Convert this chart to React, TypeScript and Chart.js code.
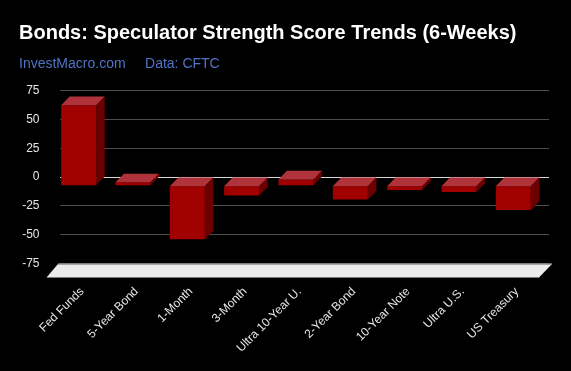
import React, { useEffect, useRef } from "react";
import { Chart, registerables } from "chart.js";

Chart.register(...registerables);

// ---- Data ----
const categories = [
  "Fed Funds",
  "5-Year Bond",
  "1-Month",
  "3-Month",
  "Ultra 10-Year U.",
  "2-Year Bond",
  "10-Year Note",
  "Ultra U.S.",
  "US Treasury",
];
const scores = [70, 3, -46.5, -8.5, 5.5, -12, -3.6, -5.4, -21];
const yMin = -75;
const yMax = 75;
const yStep = 25;
const titleText = "Bonds: Speculator Strength Score Trends (6-Weeks)";
const subtitleText = "InvestMacro.com     Data: CFTC";

// 3D depth offsets (front face is shifted left/down from the back plane)
const DX = 8.5;
const DY = 8.7;

const FRONT = "#a00000";
const TOP = "#b0323a";
const SIDE = "#6c0000";

const bar3dPlugin = {
  id: "bar3d",
  beforeDraw(chart: any) {
    const { ctx, width, height } = chart;
    ctx.save();
    ctx.fillStyle = "#000000";
    ctx.fillRect(0, 0, width, height);
    ctx.restore();
  },
  beforeDatasetsDraw(chart: any) {
    const { ctx, chartArea: a } = chart;
    // floor
    ctx.save();
    const backY = a.bottom + 0.5;
    const frontY = a.bottom + 14;
    const bl = a.left - 2;
    const br = a.right + 3;
    ctx.beginPath();
    ctx.moveTo(bl, backY);
    ctx.lineTo(br, backY);
    ctx.lineTo(br - 13, frontY);
    ctx.lineTo(bl - 11.5, frontY);
    ctx.closePath();
    ctx.fillStyle = "#ebebeb";
    ctx.fill();
    ctx.beginPath();
    ctx.moveTo(bl, backY);
    ctx.lineTo(br, backY);
    ctx.strokeStyle = "#8c8c8c";
    ctx.lineWidth = 1.5;
    ctx.stroke();
    ctx.restore();
    // shift front faces
    ctx.save();
    ctx.translate(-DX, DY);
  },
  afterDatasetsDraw(chart: any) {
    const { ctx } = chart;
    ctx.restore();
    const meta = chart.getDatasetMeta(0);
    ctx.save();
    meta.data.forEach((el: any) => {
      const { x, y, base, width } = el.getProps(["x", "y", "base", "width"], true);
      const fl = x - width / 2 - DX;
      const fr = x + width / 2 - DX;
      const ft = Math.min(y, base) + DY;
      const fb = Math.max(y, base) + DY;
      // top face
      ctx.beginPath();
      ctx.moveTo(fl, ft);
      ctx.lineTo(fr, ft);
      ctx.lineTo(fr + DX, ft - DY);
      ctx.lineTo(fl + DX, ft - DY);
      ctx.closePath();
      ctx.fillStyle = TOP;
      ctx.fill();
      // side face
      ctx.beginPath();
      ctx.moveTo(fr, ft);
      ctx.lineTo(fr + DX, ft - DY);
      ctx.lineTo(fr + DX, fb - DY);
      ctx.lineTo(fr, fb);
      ctx.closePath();
      ctx.fillStyle = SIDE;
      ctx.fill();
    });
    ctx.restore();
  },
};

export default function App() {
  const canvasRef = useRef<HTMLCanvasElement | null>(null);

  useEffect(() => {
    document.body.style.margin = "0";
    document.body.style.background = "#000";
    const canvas = canvasRef.current;
    if (!canvas) return;
    const chart = new Chart(canvas, {
      type: "bar",
      data: {
        labels: categories,
        datasets: [
          {
            data: scores,
            backgroundColor: FRONT,
            borderWidth: 0,
            categoryPercentage: 1,
            barPercentage: 0.645,
            clip: false as any,
          },
        ],
      },
      plugins: [bar3dPlugin],
      options: {
        responsive: false,
        devicePixelRatio: 1,
        animation: false,
        layout: { padding: { left: 19, right: 22, top: 0, bottom: 0 } },
        plugins: {
          legend: { display: false },
          tooltip: { enabled: false },
          title: {
            display: true,
            text: titleText,
            align: "start",
            color: "#ffffff",
            font: { family: "'Liberation Sans', Arial, sans-serif", size: 20, weight: "bold" },
            padding: { top: 21, bottom: 0 },
          },
          subtitle: {
            display: true,
            text: subtitleText,
            align: "start",
            color: "#4f74c6",
            font: { family: "'Liberation Sans', Arial, sans-serif", size: 14, weight: "normal" },
            padding: { top: 10.6, bottom: 18.3 },
          },
        },
        scales: {
          x: {
            type: "category",
            offset: true,
            grid: { display: false, drawTicks: false },
            border: { display: false },
            ticks: {
              color: "#e6e6e6",
              font: { family: "'Liberation Sans', Arial, sans-serif", size: 12 },
              maxRotation: 45,
              minRotation: 45,
              autoSkip: false,
              padding: 21,
              labelOffset: -5,
            },
            afterFit: (scale: any) => {
              scale.height = 107.5;
            },
          },
          y: {
            min: yMin,
            max: yMax,
            grid: {
              drawTicks: false,
              color: (c: any) => (c.tick && c.tick.value === 0 ? "#d9d9d9" : "#4d4d4d"),
              lineWidth: 1,
            },
            border: { display: false },
            ticks: {
              stepSize: yStep,
              color: "#e6e6e6",
              font: { family: "'Liberation Sans', Arial, sans-serif", size: 12 },
              padding: 20.5,
            },
            afterFit: (scale: any) => {
              scale.width = 41;
            },
          },
        },
      },
    });
    return () => chart.destroy();
  }, []);

  return (
    <div style={{ width: 571, height: 371, background: "#000" }}>
      <canvas ref={canvasRef} width={571} height={371} style={{ display: "block" }} />
    </div>
  );
}
